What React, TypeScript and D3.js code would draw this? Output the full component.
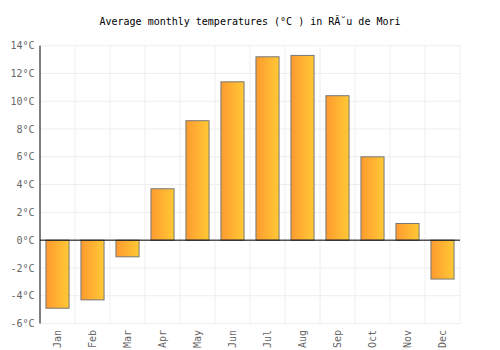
import React from "react";
import * as d3 from "d3";

const months = ["Jan", "Feb", "Mar", "Apr", "May", "Jun", "Jul", "Aug", "Sep", "Oct", "Nov", "Dec"];
const temps = [-4.9, -4.3, -1.2, 3.7, 8.6, 11.4, 13.2, 13.3, 10.4, 6.0, 1.2, -2.8];
const yTicks = [-6, -4, -2, 0, 2, 4, 6, 8, 10, 12, 14];
const title = "Average monthly temperatures (°C ) in RĂ˘u de Mori";

export default function App() {
  const W = 500, H = 350;
  const left = 40, right = 460, top = 45.7, bottom = 323.5;
  const x = d3.scaleBand<string>().domain(months).range([left, right]).paddingInner(0.34).paddingOuter(0.17);
  const xg = d3.scaleBand<string>().domain(months).range([left, right]);
  const y = d3.scaleLinear().domain([-6, 14]).range([bottom, top]);
  const font = "'DejaVu Sans Mono', monospace";
  return (
    <svg width={W} height={H} style={{ position: "absolute", left: 0, top: 0 }}>
      <defs>
        <linearGradient id="bg" x1="0" x2="1" y1="0" y2="0">
          <stop offset="0" stopColor="#ff9a2f" />
          <stop offset="1" stopColor="#ffc936" />
        </linearGradient>
      </defs>
      <rect width={W} height={H} fill="#fff" />
      <text x={250} y={24.5} textAnchor="middle" fontFamily={font} fontSize={10} fill="#000">{title}</text>
      {yTicks.map(t => (
        <line key={"h" + t} x1={left} x2={right} y1={y(t)} y2={y(t)} stroke="#eeeeee" strokeWidth={1} />
      ))}
      {months.map((m, i) => (
        <line key={"v" + m} x1={(xg(m) as number) + xg.bandwidth()} x2={(xg(m) as number) + xg.bandwidth()} y1={top} y2={bottom} stroke="#eeeeee" strokeWidth={1} />
      ))}
      {temps.map((v, i) => {
        const m = months[i];
        const y0 = y(Math.max(0, v)), y1 = y(Math.min(0, v));
        return <rect key={m} x={x(m)} y={y0} width={x.bandwidth()} height={y1 - y0} fill="url(#bg)" stroke="#777" strokeWidth={1} />;
      })}
      <line x1={left} x2={left} y1={top} y2={bottom} stroke="#000" strokeWidth={1} />
      <line x1={left} x2={right} y1={y(0)} y2={y(0)} stroke="#000" strokeWidth={1} />
      {yTicks.map(t => (
        <text key={"t" + t} x={34.5} y={y(t) + 3.6} textAnchor="end" fontFamily={font} fontSize={10} fill="#666">{t}°C</text>
      ))}
      {months.map(m => {
        const cx = (xg(m) as number) + xg.bandwidth() / 2;
        return (
          <text key={"l" + m} transform={`translate(${cx + 3.5},${330}) rotate(-90)`} textAnchor="end" fontFamily={font} fontSize={10} fill="#666">{m}</text>
        );
      })}
    </svg>
  );
}
